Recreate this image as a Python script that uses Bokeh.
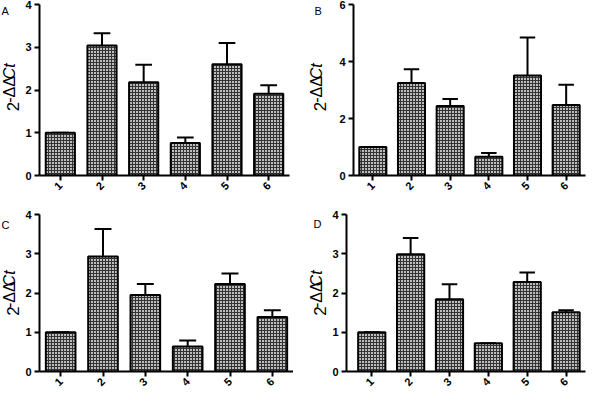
import math
from bokeh.plotting import figure
from bokeh.layouts import row, column
from bokeh.models import FixedTicker, ColumnDataSource
from bokeh.core.properties import value
from bokeh.embed import file_html
from bokeh.resources import INLINE

categories = ["1", "2", "3", "4", "5", "6"]

a_mean = [1.00, 3.04, 2.18, 0.76, 2.60, 1.91]
a_err = [0.00, 0.29, 0.41, 0.13, 0.50, 0.20]

b_mean = [1.00, 3.25, 2.44, 0.66, 3.51, 2.47]
b_err = [0.00, 0.48, 0.24, 0.13, 1.33, 0.71]

c_mean = [1.00, 2.93, 1.95, 0.64, 2.23, 1.39]
c_err = [0.00, 0.70, 0.28, 0.15, 0.27, 0.17]

d_mean = [1.00, 2.99, 1.84, 0.72, 2.28, 1.51]
d_err = [0.00, 0.41, 0.38, 0.00, 0.24, 0.05]

panel_letters = ["A", "B", "C", "D"]
y_ticks_4 = [0, 1, 2, 3, 4]
y_ticks_6 = [0, 2, 4, 6]

FONT = "Liberation Sans"
H = 196


def make_panel(mean, err, yticks, w, bl, br, bt, bb, x0, x1):
    ymax = yticks[-1]
    p = figure(width=w, height=H, x_range=(x0, x1), y_range=(0, ymax),
               output_backend="svg", toolbar_location=None,
               min_border_left=bl, min_border_right=br,
               min_border_top=bt, min_border_bottom=bb)
    p.outline_line_color = None
    p.grid.visible = False

    xs = list(range(1, len(categories) + 1))
    tops = [m + e for m, e in zip(mean, err)]
    src = ColumnDataSource(dict(x=xs, top=mean, up=tops,
                                cl=[x - 0.2 for x in xs],
                                cr=[x + 0.2 for x in xs]))
    p.segment(x0="x", y0="top", x1="x", y1="up", source=src,
              line_color="black", line_width=2)
    p.segment(x0="cl", y0="up", x1="cr", y1="up", source=src,
              line_color="black", line_width=2)
    p.vbar(x="x", top="top", bottom=0, width=0.7, source=src,
           fill_color="#bdbdbd", line_color="black", line_width=2,
           hatch_pattern="cross", hatch_color="#333333",
           hatch_scale=3, hatch_weight=1)

    for ax in (p.xaxis[0], p.yaxis[0]):
        ax.axis_line_width = 2
        ax.major_tick_line_width = 2
        ax.major_tick_out = 5
        ax.major_tick_in = 0
        ax.minor_tick_line_color = None
        ax.major_label_text_font = FONT
        ax.major_label_text_font_size = "11px"
        ax.major_label_text_font_style = "bold"
        ax.major_label_text_color = "black"
    p.yaxis.major_label_standoff = 3
    p.xaxis.major_label_standoff = 3
    p.xaxis.ticker = FixedTicker(ticks=xs)
    p.xaxis.major_label_overrides = {x: c for x, c in zip(xs, categories)}
    p.xaxis.major_label_orientation = math.pi / 4
    p.yaxis.ticker = FixedTicker(ticks=yticks)
    return p


def make_strip(letter, w, letter_x, letter_top, lab_x, lab_center):
    s = figure(width=w, height=H, x_range=(0, w), y_range=(0, H),
               output_backend="svg", toolbar_location=None,
               min_border=0)
    s.axis.visible = False
    s.grid.visible = False
    s.outline_line_color = None
    s.text(x=[letter_x], y=[H - letter_top], text=[letter],
           text_font=value(FONT), text_font_size=value("11px"),
           text_baseline="top", text_align="left", text_color="black")
    parts = [("2", "17px", "normal", 0.0, 9.5),
             ("-ΔΔ", "16px", "normal", -3.0, 27.0),
             ("Ct", "16px", "italic", -3.0, 16.0)]
    total = sum(pt[4] for pt in parts)
    yy = lab_center - total / 2
    for txt, fs, st, dx, adv in parts:
        s.text(x=[lab_x + dx], y=[yy], text=[txt], angle=math.pi / 2,
               text_font=value(FONT), text_font_size=value(fs),
               text_font_style=st, text_align="left",
               text_baseline="middle", text_color="black")
        yy += adv
    return s


# row 1
sa = make_strip("A", 22, 1, 1, 12, 100)
pa = make_panel(a_mean, a_err, y_ticks_4, 271, 14, 4, 4, 16, 0.5, 6.5)
sb = make_strip("B", 36, 21, 1, 26, 100)
pb = make_panel(b_mean, b_err, y_ticks_6, 258, 24, 2, 4, 16, 0.5, 6.5)
# row 2
sc = make_strip("C", 22, 1, 5, 12, 96)
pc = make_panel(c_mean, c_err, y_ticks_4, 271, 14, 0, 18, 12, 0.5, 6.5)
sd = make_strip("D", 36, 20, 4, 26, 96)
pd = make_panel(d_mean, d_err, y_ticks_4, 258, 16, 2, 14, 12, 0.35, 6.5)

layout = column(row(sa, pa, sb, pb), row(sc, pc, sd, pd))

open("out.html", "w").write(file_html(layout, INLINE))
